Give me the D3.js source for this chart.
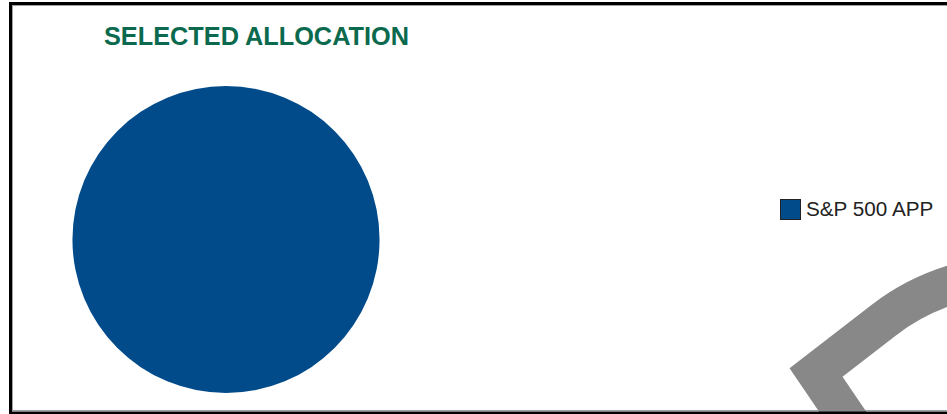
<!doctype html>
<html lang="en">
<head>
<meta charset="utf-8">
<title>Selected Allocation</title>
<script src="https://cdn.jsdelivr.net/npm/d3@7/dist/d3.min.js"></script>
<style>
  body { margin: 0; background: #fff; }
  svg { display: block; font-family: "Liberation Sans", Arial, sans-serif; }
</style>
</head>
<body>
<svg id="chart" width="947" height="414"></svg>
<script>
// data
var categories = ["S&P 500 APP"];
var allocations = [100];
var colors = ["#024b8b"];
var title = "SELECTED ALLOCATION";

var svg = d3.select("#chart");

// frame
svg.append("rect").attr("x", 10.5).attr("y", 3.5).attr("width", 960).attr("height", 410)
  .attr("fill", "#fff").attr("stroke", "#000").attr("stroke-width", 3);
svg.append("rect").attr("x", 12.5).attr("y", 5.5).attr("width", 960).attr("height", 405)
  .attr("fill", "none").attr("stroke", "#a0a0a0").attr("stroke-width", 1);

// title
svg.append("text").attr("x", 104).attr("y", 45)
  .attr("font-size", 25.3).attr("font-weight", "bold").attr("fill", "#0b6a4e")
  .text(title);

// pie
var pieData = d3.pie().sort(null)(allocations);
var arc = d3.arc().innerRadius(0).outerRadius(153.5);
svg.append("g").attr("transform", "translate(226,239.5)")
  .selectAll("path.slice")
  .data(pieData)
  .enter()
  .append("path")
  .attr("class", "slice")
  .attr("d", arc)
  .attr("fill", function(d, i) { return colors[i]; });

// legend
var legend = svg.selectAll("g.legend")
  .data(categories)
  .enter()
  .append("g")
  .attr("class", "legend")
  .attr("transform", function(d, i) { return "translate(780," + (199 + i * 26) + ")"; });
legend.append("rect").attr("x", 0.5).attr("y", 0.5).attr("width", 20).attr("height", 20)
  .attr("fill", function(d, i) { return colors[i]; }).attr("stroke", "#222");
legend.append("text").attr("x", 26).attr("y", 17)
  .attr("font-size", 20.7).attr("fill", "#222")
  .text(function(d) { return d; });

// decorative gray stroke in the corner
var p = d3.path();
p.moveTo(862, 440);
p.lineTo(816, 372.5);
p.lineTo(884, 320);
p.bezierCurveTo(906, 303, 930, 290, 965, 281);
svg.append("path").attr("d", p.toString())
  .attr("fill", "none").attr("stroke", "#888888").attr("stroke-width", 39)
  .attr("stroke-linejoin", "miter");

// frame on top of bottom edge
svg.append("line").attr("x1", 9).attr("x2", 947).attr("y1", 413).attr("y2", 413)
  .attr("stroke", "#000").attr("stroke-width", 3);
</script>
</body>
</html>
